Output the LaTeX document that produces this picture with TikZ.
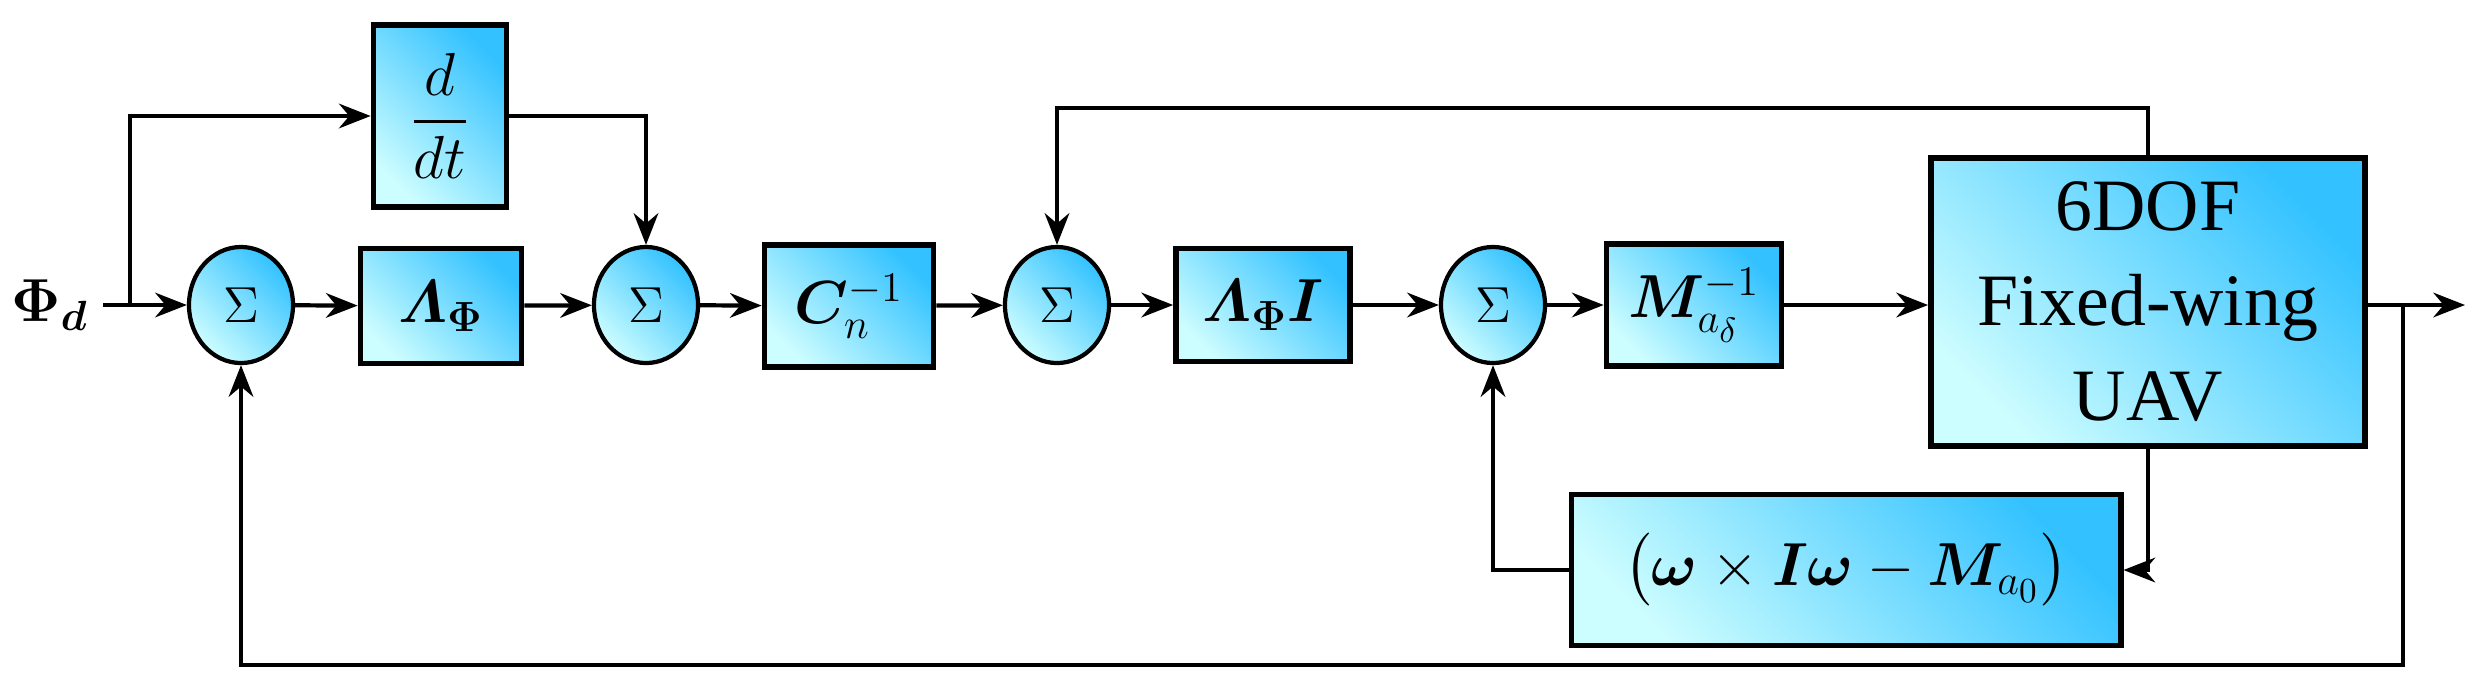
\documentclass[tikz,border=0pt]{standalone}
\usepackage{fontspec}
\setmainfont{Liberation Serif}
\usepackage{amsmath,amssymb}
\usepackage{bm}
\usetikzlibrary{positioning, arrows.meta, shapes.geometric}

\begin{document}
\begin{tikzpicture}[x=0.01cm,y=-0.01cm,line width=1.2pt,>={Stealth[length=9pt,width=7pt]},
    blk/.style={draw,line width=1.6pt,inner sep=0pt,bottom color=blue!4!cyan!20,top color=cyan!70!blue!80,shading angle=-45,font=\LARGE},
    sum/.style={draw,line width=1.2pt,ellipse,inner sep=0pt,minimum width=1.04cm,minimum height=1.16cm,bottom color=blue!4!cyan!20,top color=cyan!70!blue!80,shading angle=-45,font=\Large}]
        \useasboundingbox (0,0) rectangle (2482,699);
        \node (Phi) at (50,305) {\LARGE$\bm{\Phi_d}$};
        \coordinate (in) at (103,305);
        \coordinate (br) at (130,305);
        \node[blk,minimum width=1.33cm,minimum height=1.82cm] (D) at (440,116) {$\dfrac{d}{dt}$};
        \node[sum] (s1) at (241,305) {$\Sigma$};
        \node[blk,minimum width=1.61cm,minimum height=1.15cm] (L) at (441,306) {$\bm{\varLambda_\Phi}$};
        \node[sum] (s2) at (646,305) {$\Sigma$};
        \node[blk,minimum width=1.69cm,minimum height=1.22cm] (C) at (849,306) {$\bm{C}_n^{-1}$};
        \node[sum] (s3) at (1057,305) {$\Sigma$};
        \node[blk,minimum width=1.74cm,minimum height=1.13cm] (LI) at (1263,305) {$\bm{\varLambda_\Phi I}$};
        \node[sum] (s4) at (1493,305) {$\Sigma$};
        \node[blk,minimum width=1.75cm,minimum height=1.22cm] (M) at (1694,305) {$\bm{M}_{a_\delta}^{-1}$};
        \node[blk,minimum width=4.34cm,minimum height=2.88cm,align=center,font=\fontsize{21}{27}\selectfont] (UAV) at (2148,302) {6DOF\\Fixed-wing\\UAV};
        \node[blk,minimum width=5.49cm,minimum height=1.51cm] (W) at (1846,570) {$\bigl(\bm{\omega}\times\bm{I\omega}-\bm{M}_{a_0}\bigr)$};
        \coordinate (out) at (2465,305);
        \coordinate (tap) at (2403,305);
        \coordinate (top) at (2148,108);
        \coordinate (bot) at (2403,665);

        \draw (in) -- (br);
        \path[->] (br) edge (s1)
                  (br) edge [to path={|- (\tikztotarget)}] (D)
                  (D) edge [to path={-| (\tikztotarget)}] (s2)
                  (s1) edge (L)
                  (L) edge (s2)
                  (s2) edge (C)
                  (C) edge (s3)
                  (s3) edge (LI)
                  (LI) edge (s4)
                  (s4) edge (M)
                  (M) edge (UAV.west |- M)
                  (UAV.east |- out) edge (out)
                  (UAV.south) edge [to path={|- (\tikztotarget)}] (W)
                  (W) edge [to path={-| (\tikztotarget)}] (s4)
                  (UAV.north) edge [to path={|- (top) -| (\tikztotarget)}] (s3)
                  (tap) edge [to path={|- (bot) -| (\tikztotarget)}] (s1);
    \end{tikzpicture}
\end{document}
